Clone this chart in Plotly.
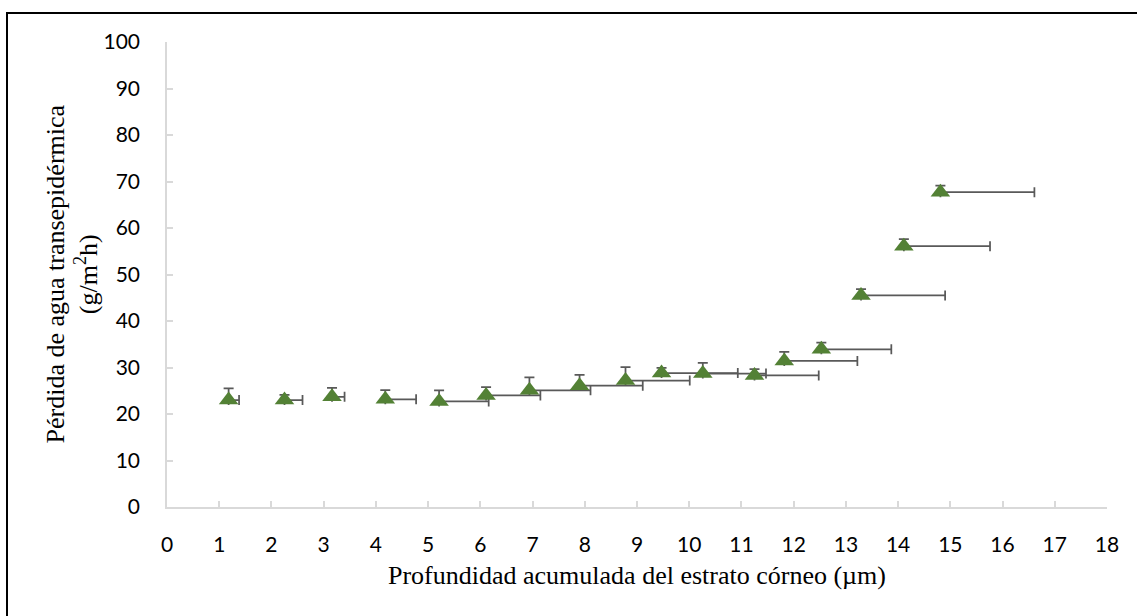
import plotly.graph_objects as go

# Data
depth = [1.18, 2.25, 3.16, 4.18, 5.21, 6.11, 6.94, 7.90, 8.78, 9.47,
         10.26, 11.25, 11.82, 12.53, 13.29, 14.11, 14.81]
tewl = [23.0, 23.0, 23.7, 23.15, 22.7, 24.0, 25.1, 26.1, 27.2, 28.8,
        28.7, 28.3, 31.4, 33.9, 45.5, 56.1, 67.7]
depth_err = [0.20, 0.345, 0.24, 0.59, 0.95, 1.04, 1.17, 1.21, 1.23, 1.46,
             1.21, 1.23, 1.40, 1.34, 1.61, 1.65, 1.80]
tewl_err = [2.5, 1.14, 1.94, 2.0, 2.4, 1.8, 2.8, 2.3, 2.9, 1.1,
            2.3, 1.36, 1.94, 1.43, 1.36, 1.5, 1.43]

x_title = "Profundidad acumulada del estrato córneo (µm)"
y_title = "Pérdida de agua transepidérmica<br>(g/m<sup>2</sup>h)"

W, H = 1137, 616
L, R, T, B = 167, 30, 42, 109
pw, ph = W - L - R, H - T - B

fig = go.Figure()
fig.add_trace(go.Scatter(
    x=depth, y=tewl, mode="markers",
    marker=dict(symbol="triangle-up", size=17, color="#538135",
                line=dict(width=0)),
    error_x=dict(type="data", array=depth_err, arrayminus=[0] * len(depth),
                 color="#595959", thickness=1.75, width=5),
    error_y=dict(type="data", array=tewl_err, arrayminus=[0] * len(tewl),
                 color="#595959", thickness=1.75, width=5),
    showlegend=False,
))

axis_common = dict(
    showgrid=False, zeroline=False, showline=True,
    linecolor="#d9d9d9", linewidth=1.5,
    ticks="inside", ticklen=6, tickwidth=1.5, tickcolor="#d9d9d9",
    tickfont=dict(family="Lato", size=21, color="#000000"),
)

fig.update_xaxes(range=[0, 18], dtick=1, tick0=0, ticklabelstandoff=18,
                 **axis_common)
fig.update_yaxes(range=[0, 100], dtick=10, tick0=0, ticklabelstandoff=21,
                 **axis_common)

fig.add_annotation(text=x_title, xref="paper", yref="paper",
                   x=0.5, y=(507 - 575) / ph, xanchor="center",
                   yanchor="middle", showarrow=False,
                   font=dict(family="Liberation Serif", size=26, color="#000"))
fig.add_annotation(text=y_title, xref="paper", yref="paper",
                   x=(72 - L) / pw, y=0.5, xanchor="center",
                   yanchor="middle", textangle=-90, showarrow=False,
                   font=dict(family="Liberation Serif", size=26, color="#000"))

# outer frame (cut off at right and bottom in the reference)
fig.add_shape(type="rect", xref="paper", yref="paper",
              x0=(7 - L) / pw, y0=-0.5, x1=1.2, y1=(507 - 13) / ph,
              line=dict(color="#000000", width=2), fillcolor="rgba(0,0,0,0)",
              layer="above")

fig.update_layout(
    width=W, height=H,
    margin=dict(l=L, r=R, t=T, b=B),
    paper_bgcolor="white", plot_bgcolor="white",
)

fig.write_html("out.html")
